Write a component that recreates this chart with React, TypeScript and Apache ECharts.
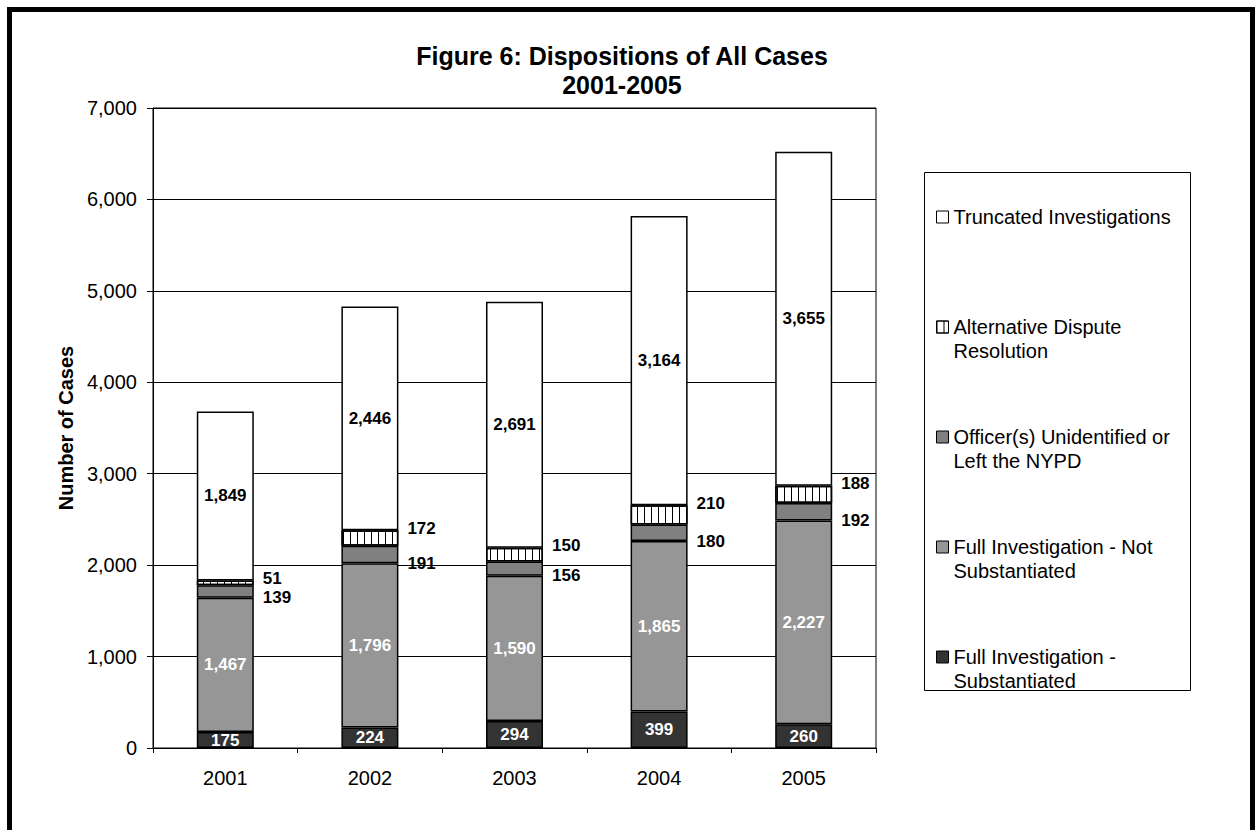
import React, { useEffect, useRef } from "react";
import * as echarts from "echarts";

const years = ["2001", "2002", "2003", "2004", "2005"];
const substantiated = [175, 224, 294, 399, 260];
const notSubstantiated = [1467, 1796, 1590, 1865, 2227];
const officerUnidentified = [139, 191, 156, 180, 192];
const adr = [51, 172, 150, 210, 188];
const truncated = [1849, 2446, 2691, 3164, 3655];

const seriesNames = [
  "Full Investigation - Substantiated",
  "Full Investigation - Not Substantiated",
  "Officer(s) Unidentified or Left the NYPD",
  "Alternative Dispute Resolution",
  "Truncated Investigations",
];
const legendLines: Record<string, string> = {
  "Truncated Investigations": "Truncated Investigations",
  "Alternative Dispute Resolution": "Alternative Dispute\nResolution",
  "Officer(s) Unidentified or Left the NYPD": "Officer(s) Unidentified or\nLeft the NYPD",
  "Full Investigation - Not Substantiated": "Full Investigation - Not\nSubstantiated",
  "Full Investigation - Substantiated": "Full Investigation -\nSubstantiated",
};

const FONT = "'Liberation Sans', Arial, Helvetica, sans-serif";
const fmt = (v: number) => Number(v).toLocaleString("en-US");

export default function App() {
  const ref = useRef<HTMLDivElement>(null);
  useEffect(() => {
    if (!ref.current) return;
    const chart = echarts.init(ref.current, undefined, { renderer: "svg" });
    const base = {
      type: "bar" as const,
      stack: "total",
      barWidth: 57,
    };
    const border = { borderColor: "#000", borderWidth: 1.5 };
    const labelBase = {
      show: true,
      fontFamily: FONT,
      fontWeight: "bold" as const,
      fontSize: 17,
      formatter: (p: any) => fmt(p.value),
    };
    const option: any = {
      animation: false,
      backgroundColor: "#fff",
      textStyle: { fontFamily: FONT },
      title: {
        text: "Figure 6: Dispositions of All Cases\n2001-2005",
        left: 617,
        top: 36,
        textAlign: "center",
        textStyle: {
          fontFamily: FONT,
          fontWeight: "bold",
          fontSize: 25,
          lineHeight: 29,
          color: "#000",
        },
      },
      grid: {
        left: 153,
        right: 380,
        top: 108,
        bottom: 82,
        show: true,
        borderColor: "#000",
        borderWidth: 1,
        backgroundColor: "#fff",
      },
      legend: {
        orient: "vertical",
        left: 931,
        top: 176,
        itemWidth: 12,
        itemHeight: 12,
        itemGap: 38,
        icon: "rect",
        selectedMode: false,
        data: [...seriesNames].reverse(),
        formatter: (name: string) => {
          const t = legendLines[name];
          return t.indexOf("\n") >= 0 ? "\n" + t : "\n" + t + "\n ";
        },
        itemStyle: { borderColor: "#000", borderWidth: 1 },
        textStyle: {
          fontFamily: FONT,
          fontSize: 20,
          lineHeight: 24,
          color: "#000",
        },
      },
      xAxis: {
        type: "category",
        data: years,
        axisLine: { lineStyle: { color: "#000", width: 1 } },
        axisTick: { show: true, length: 5, lineStyle: { color: "#000" } },
        axisLabel: { fontFamily: FONT, fontSize: 20, color: "#000", margin: 20 },
      },
      yAxis: {
        type: "value",
        min: 0,
        max: 7000,
        interval: 1000,
        name: "Number of Cases",
        nameLocation: "middle",
        nameGap: 76,
        nameTextStyle: { fontFamily: FONT, fontWeight: "bold", fontSize: 20, color: "#000" },
        axisLine: { show: true, lineStyle: { color: "#000", width: 1 } },
        axisTick: { show: true, length: 6, lineStyle: { color: "#000" } },
        axisLabel: {
          fontFamily: FONT,
          fontSize: 20,
          color: "#000",
          margin: 16,
          formatter: (v: number) => fmt(v),
        },
        splitLine: { show: true, lineStyle: { color: "#000", width: 1 } },
      },
      graphic: [
        {
          type: "rect",
          shape: { x: 924.5, y: 172.5, width: 266, height: 518 },
          style: { fill: "none", stroke: "#000", lineWidth: 1 },
          silent: true,
        },
        {
          type: "rect",
          shape: { x: 9.5, y: 9.5, width: 1243, height: 900 },
          style: { fill: "none", stroke: "#000", lineWidth: 5 },
          silent: true,
        },
      ],
      series: [
        {
          ...base,
          name: seriesNames[0],
          data: substantiated,
          itemStyle: { color: "#333333", ...border },
          label: { ...labelBase, position: "inside", color: "#fff" },
        },
        {
          ...base,
          name: seriesNames[1],
          data: notSubstantiated,
          itemStyle: { color: "#969696", ...border },
          label: { ...labelBase, position: "inside", color: "#fff" },
        },
        {
          ...base,
          name: seriesNames[2],
          data: officerUnidentified,
          itemStyle: { color: "#808080", ...border },
          label: {
            ...labelBase,
            position: ["100%", "100%"],
            offset: [9, 0],
            align: "left",
            verticalAlign: "middle",
            color: "#000",
          },
        },
        {
          ...base,
          name: seriesNames[3],
          data: adr,
          itemStyle: {
            color: "#fff",
            ...border,
            decal: {
              symbol: "rect",
              symbolSize: 1,
              dashArrayX: [0.9, 5.4],
              dashArrayY: [4, 0],
              rotation: 0,
              color: "#000",
              backgroundColor: "#fff",
            },
          },
          label: {
            ...labelBase,
            position: ["100%", 0],
            offset: [9, -2],
            align: "left",
            verticalAlign: "middle",
            color: "#000",
          },
        },
        {
          ...base,
          name: seriesNames[4],
          data: truncated,
          itemStyle: { color: "#fff", ...border },
          label: { ...labelBase, position: "inside", color: "#000" },
        },
      ],
    };
    chart.setOption(option);
    return () => chart.dispose();
  }, []);
  return (
    <div
      ref={ref}
      style={{ position: "absolute", left: 0, top: 0, width: 1256, height: 830 }}
    />
  );
}
